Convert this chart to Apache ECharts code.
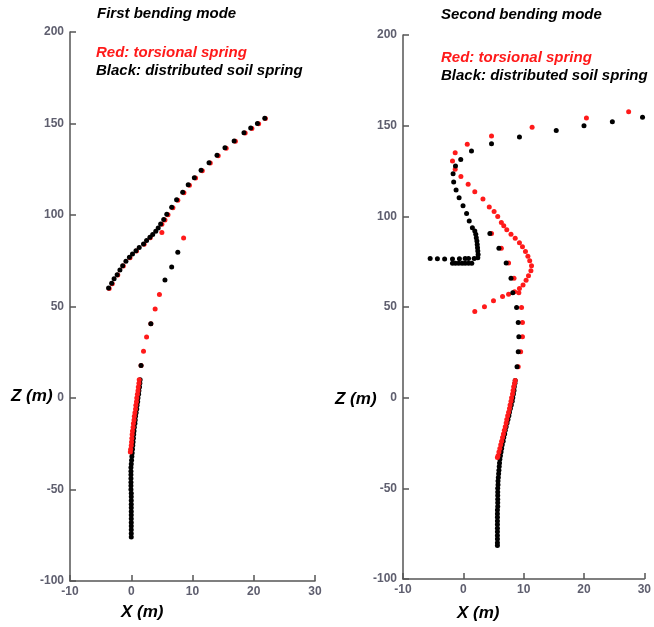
<!DOCTYPE html>
<html>
<head>
<meta charset="utf-8">
<script src="https://cdn.jsdelivr.net/npm/echarts@6/dist/echarts.min.js"></script>
<style>html,body{margin:0;padding:0;background:#fff}#c{width:654px;height:627px}</style>
</head>
<body>
<div id="c"></div>
<script>
// ---------- Axis ticks ----------
const xTicks = [-10, 0, 10, 20, 30];
const zTicks = [-100, -50, 0, 50, 100, 150, 200];

// ---------- First bending mode ----------
// red: torsional spring (upper nodes)
const m1RedTop = [
  [21.9,152.7],[20.8,149.8],[19.7,147.3],[18.6,144.8],[17.0,140.3],[15.5,136.5],[14.2,132.4],[12.9,128.4],
  [11.6,124.2],[10.5,120.2],[9.5,116.3],[8.6,112.2],[7.6,108.1],[6.8,104.0],[6.0,100.2],[5.5,97.3],
  [5.0,94.9],[5.0,90.5],[8.55,87.5],[3.1,87.6],[2.1,84.0],[0.85,80.3],[-0.2,76.7],[-1.3,72.1],
  [-2.2,67.2],[-3.1,62.5],[-3.6,59.9],[4.6,56.5],[3.9,48.7],[3.2,40.6],[2.5,33.3],[2.0,25.5],[1.6,17.7]
];
// black: distributed soil spring (upper nodes)
const m1BlackTop = [
  [21.8,152.9],[20.6,150.0],[19.5,147.6],[18.4,145.0],[16.8,140.5],[15.3,136.7],[14.0,132.6],[12.7,128.6],
  [11.4,124.4],[10.3,120.4],[9.3,116.5],[8.4,112.4],[7.4,108.3],[6.6,104.2],[5.8,100.4],[5.3,97.5],
  [4.8,95.1],[4.4,92.9],[4.0,91.1],[3.5,89.3],[3.05,87.8],[2.5,86.0],[2.0,84.2],[1.3,82.3],
  [0.77,80.5],[0.2,78.7],[-0.3,76.9],[-0.87,74.7],[-1.4,72.3],[-1.85,70.0],[-2.3,67.4],[-2.8,65.1],
  [-3.2,62.7],[-3.7,60.1],[7.6,79.6],[6.6,71.6],[5.5,64.5],[3.2,40.6],[1.6,17.7]
];
// shaft nodes
const m1RedShaft = [
  [1.3,10],[1.25,8],[1.15,6],[1.1,4],[1.0,2],[0.9,0],[0.85,-2],[0.75,-4],[0.7,-6],[0.6,-8],
  [0.5,-10],[0.45,-12],[0.35,-14],[0.3,-16],[0.2,-18],[0.15,-20],[0.1,-22],[0.05,-24],[0,-26],[-0.1,-28],[-0.15,-29.5]
];
const m1BlackShaft = [
  [1.45,10],[1.4,8],[1.35,6],[1.25,4],[1.2,2],[1.1,0],[1.05,-2],[0.95,-4],[0.9,-6],[0.8,-8],
  [0.7,-10],[0.65,-12],[0.6,-14],[0.5,-16],[0.45,-18],[0.4,-20],[0.35,-22],[0.3,-24],[0.25,-26],[0.2,-28],
  [0.15,-30],[0.1,-32],[0.05,-34],[0,-36],[-0.05,-38],[-0.05,-40],[-0.05,-42],[-0.05,-44],[-0.05,-46],[-0.05,-48],
  [-0.05,-50],[0,-52],[0,-54],[0,-56],[0,-58],[0,-60],[0,-62],[0,-64],[0,-66],[0,-68],
  [0,-70],[0,-72],[0,-74],[0,-76]
];

// ---------- Second bending mode ----------
const m2RedTop = [
  [27.4,157.7],[20.4,154.2],[11.4,149.1],[4.67,144.3],[0.65,139.7],[-1.35,135.0],[-1.8,130.5],[-1.35,125.9],
  [-0.4,122.0],[0.8,117.7],[1.9,113.6],[3.25,109.6],[4.3,105.2],[5.1,102.6],[5.7,99.9],[6.3,96.6],
  [6.7,94.8],[7.2,92.6],[7.9,90.1],[8.6,87.9],[9.3,85.5],[9.8,83.2],[10.3,80.6],[10.7,78.0],
  [11.0,75.5],[11.3,72.7],[11.2,70.0],[10.8,67.2],[10.4,64.8],[9.9,62.2],[9.3,60.2],[8.5,58.4],
  [7.5,57.0],[6.5,55.8],[5.0,53.4],[3.5,50.1],[1.9,47.5],
  [4.67,90.5],[6.3,82.4],[7.5,74.3],[8.4,65.8],[9.2,57.8],[9.65,49.7],[9.8,41.4],[9.8,33.6],[9.5,25.3],[9.1,17.1]
];
const m2BlackTop = [
  [29.7,154.7],[24.7,152.2],[20.0,150.0],[15.4,147.4],[9.3,143.7],[4.67,140.0],[1.35,136.0],[-0.43,131.4],
  [-1.3,127.7],[-1.7,123.5],[-1.6,118.9],[-1.2,114.5],[-0.7,110.3],[-0.05,105.9],[0.54,101.5],[0.98,97.4],
  [1.5,93.7],[1.9,91.9],[2.06,90.1],[2.15,88.2],[2.25,86.4],[2.3,84.5],[2.35,82.7],[2.4,80.9],
  [2.45,79.0],[2.4,77.2],[1.8,76.7],[0.86,76.7],[0.3,76.7],[-0.65,76.6],[-1.8,76.5],[-3.1,76.5],
  [-4.3,76.6],[-5.5,76.7],[1.4,74.1],[0.86,74.1],[0.3,74.1],[-0.2,74.1],[-0.76,74.1],[-1.3,74.1],[-1.8,74.1],
  [4.4,90.5],[5.9,82.4],[7.1,74.3],[7.9,65.8],[8.2,57.8],[8.83,49.7],[9.1,41.4],[9.2,33.6],[9.1,25.3],[8.9,17.1]
];
const m2RedShaft = [
  [8.6,9.4],[8.5,8],[8.35,6],[8.25,4],[8.15,2],[8.0,0],[7.9,-2],[7.75,-4],[7.65,-6],[7.5,-8],
  [7.35,-10],[7.2,-12],[7.1,-14],[6.95,-16],[6.8,-18],[6.65,-20],[6.5,-22],[6.35,-24],[6.2,-26],[6.05,-28],
  [5.9,-30],[5.75,-32],[5.65,-33]
];
const m2BlackShaft = [
  [8.6,9.4],[8.55,8],[8.45,6],[8.4,4],[8.3,2],[8.2,0],[8.1,-2],[7.95,-4],[7.8,-6],[7.65,-8],
  [7.55,-10],[7.4,-12],[7.25,-14],[7.1,-16],[6.95,-18],[6.85,-20],[6.7,-22],[6.6,-24],[6.45,-26],[6.35,-28],
  [6.25,-30],[6.15,-32],[6.05,-34],[6.0,-36],[5.95,-38],[5.9,-40],[5.85,-42],[5.8,-44],[5.75,-46],[5.75,-48],
  [5.7,-50],[5.7,-52],[5.7,-54],[5.7,-56],[5.7,-58],[5.7,-60],[5.65,-62],[5.65,-64],[5.65,-66],[5.65,-68],
  [5.65,-70],[5.65,-72],[5.65,-74],[5.65,-76],[5.65,-78],[5.65,-80],[5.65,-81.5]
];

const RED = '#ff1a1a', BLACK = '#000000';
const chart = echarts.init(document.getElementById('c'));

const axisLabelStyle = { color: '#5e5e6e', fontFamily: 'Liberation Sans, Arial, sans-serif', fontWeight: 'bold', fontSize: 12 };
function xAxisDef(gi) {
  return {
    type: 'value', gridIndex: gi, min: xTicks[0], max: xTicks[xTicks.length - 1], interval: 10,
    axisLine: { show: true, onZero: false, lineStyle: { color: '#555', width: 1.5 } },
    axisTick: { show: true, inside: true, length: 6, lineStyle: { color: '#555', width: 1.5 } },
    axisLabel: Object.assign({ margin: 5 }, axisLabelStyle),
    splitLine: { show: false }
  };
}
function yAxisDef(gi) {
  return {
    type: 'value', gridIndex: gi, min: zTicks[0], max: zTicks[zTicks.length - 1], interval: 50,
    axisLine: { show: true, onZero: false, lineStyle: { color: '#555', width: 1.5 } },
    axisTick: { show: true, inside: true, length: 6, lineStyle: { color: '#555', width: 1.5 } },
    axisLabel: Object.assign({ margin: 6 }, axisLabelStyle),
    splitLine: { show: false }
  };
}
function sc(data, color, gi, z) {
  return {
    type: 'scatter', xAxisIndex: gi, yAxisIndex: gi, data: data, z: z,
    symbol: 'circle', symbolSize: 5, silent: true,
    itemStyle: { color: color, opacity: 1 }
  };
}
const font = 'Liberation Sans, Arial, sans-serif';
function txt(text, left, top, size, weight, color) {
  return { type: 'text', left: left, top: top, silent: true,
    style: { text: text, fill: color, font: 'italic ' + weight + ' ' + size + 'px ' + font } };
}

chart.setOption({
  animation: false,
  backgroundColor: '#fff',
  grid: [
    { left: 70, right: 339, top: 32, bottom: 46 },
    { left: 403, right: 5, top: 35, bottom: 48 }
  ],
  xAxis: [xAxisDef(0), xAxisDef(1)],
  yAxis: [yAxisDef(0), yAxisDef(1)],
  series: [
    sc(m1RedTop, RED, 0, 2), sc(m1BlackTop, BLACK, 0, 3), sc(m1BlackShaft, BLACK, 0, 4), sc(m1RedShaft, RED, 0, 5),
    sc(m2RedTop, RED, 1, 2), sc(m2BlackTop, BLACK, 1, 3), sc(m2BlackShaft, BLACK, 1, 4), sc(m2RedShaft, RED, 1, 5)
  ],
  graphic: [
    txt('First bending mode', 97, 6, 15, 'bold', '#000'),
    txt('Second bending mode', 441, 7, 15, 'bold', '#000'),
    txt('Red: torsional spring', 96, 45, 15, 'bold', RED),
    txt('Black: distributed soil spring', 96, 63, 15, 'bold', '#000'),
    txt('Red: torsional spring', 441, 50, 15, 'bold', RED),
    txt('Black: distributed soil spring', 441, 68, 15, 'bold', '#000'),
    txt('Z (m)', 11, 388, 17, 'bold', '#000'),
    txt('X (m)', 121, 604, 17, 'bold', '#000'),
    txt('Z (m)', 335, 391, 17, 'bold', '#000'),
    txt('X (m)', 457, 605, 17, 'bold', '#000')
  ]
});
</script>
</body>
</html>
